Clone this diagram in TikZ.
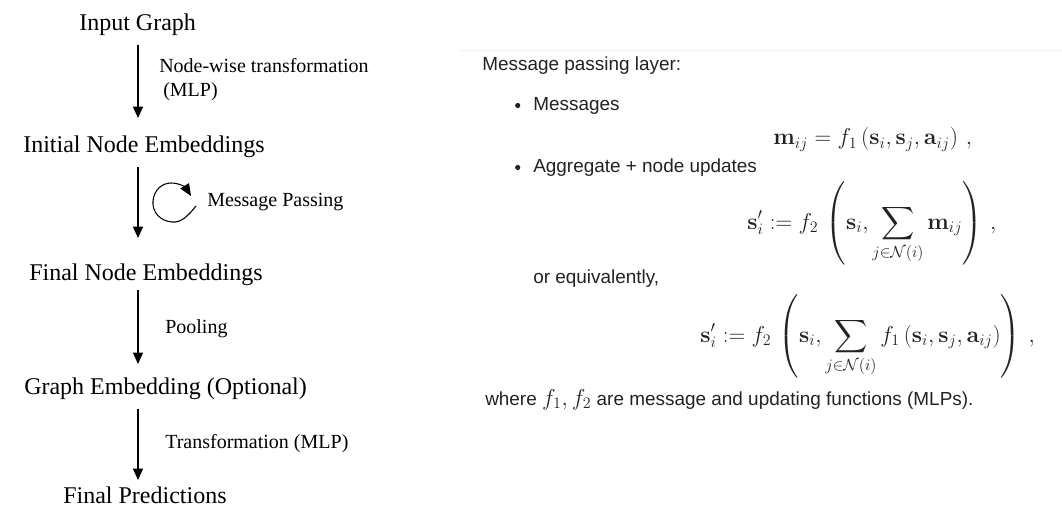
\documentclass[tikz,border=0pt]{standalone}
\usepackage{amsmath}
\usepackage[no-math]{fontspec}
\setmainfont{Liberation Serif}
\newfontfamily\rsans{Liberation Sans}
\usetikzlibrary{arrows.meta}
\definecolor{rtext}{HTML}{222222}
\definecolor{sepline}{HTML}{F0F0F0}
\tikzset{
  stage/.style={anchor=base west, inner sep=0pt, font=\fontsize{18}{21}\selectfont},
  lbl/.style={anchor=base west, inner sep=0pt, align=left, font=\fontsize{15}{18}\selectfont},
  rtxt/.style={anchor=base west, inner sep=0pt, text=rtext, font=\rsans\fontsize{14.2}{17}\selectfont},
  eqn/.style={anchor=base west, inner sep=0pt, text=rtext, font=\fontsize{17.5}{20}\selectfont},
  bul/.style={circle, fill=rtext, inner sep=0pt, minimum size=3.9pt},
  arr/.style={line width=1.1pt, -{Triangle[length=8.5pt,width=7.5pt]}},
  looparr/.style={line width=0.8pt, -{Triangle[length=9pt,width=7.5pt]}},
}
\begin{document}
\begin{tikzpicture}[x=0.75pt,y=-0.75pt]
\useasboundingbox (0,0) rectangle (1062,513);
% ---------- left flow ----------
\coordinate (ax) at (138,0);
\node[stage] (igraph) at (79,31) {Input Graph};
\node[stage] (init)   at (23,153) {Initial Node Embeddings};
\node[stage] (final)  at (29,280) {Final Node Embeddings};
\node[stage] (gemb)   at (24,394) {Graph Embedding (Optional)};
\node[stage] (pred)   at (63,503) {Final Predictions};

\node[lbl] (l1) at (159,97) {Node-wise transformation\\\hspace{3pt}(MLP)};
\node[lbl] (l2) at (207,207) {Message Passing};
\node[lbl] (l3) at (165,333) {Pooling};
\node[lbl] (l4) at (165,448) {Transformation (MLP)};

\draw[arr, shorten <=10.5pt, shorten >=26.25pt] (igraph.base -| ax) -- (init.base -| ax);
\draw[arr, shorten <=10.5pt, shorten >=31.5pt] (init.base -| ax) -- (final.base -| ax);
\draw[arr, shorten <=7.5pt, shorten >=22.5pt] (final.base -| ax) -- (gemb.base -| ax);
\draw[arr, shorten <=11.25pt, shorten >=17.25pt] (gemb.base -| ax) -- (pred.base -| ax);

% self loop symbol
\draw[looparr] (196,206) .. controls (188,216) and (181,223) .. (172,222)
  .. controls (160,221) and (152,212) .. (153,201)
  .. controls (154,190) and (162,183) .. (171,183)
  .. controls (180,183) and (186,188) .. (191,196);

% ---------- right panel ----------
\draw[sepline, line width=0.75pt] (460,51) -- (1062,51);
\node[rtxt] (title) at (482,71) {Message passing layer:};
\node[bul] (b1) at (517.7,105.5) {};
\node[rtxt] (msg) at (533,111) {Messages};
\node[eqn] (eq1) at (773,145) {$\mathbf{m}_{ij} = f_1\left(\mathbf{s}_i, \mathbf{s}_j, \mathbf{a}_{ij}\right)\,,$};
\node[bul] (b2) at (517.7,167.5) {};
\node[rtxt] (agg) at (533,172.7) {Aggregate + node updates};
\node[eqn] (eq2) at (747,229) {$\displaystyle \mathbf{s}'_i := f_2\,\left(\mathbf{s}_i, \sum_{j\in\mathcal{N}(i)} \mathbf{m}_{ij}\right)\,,$};
\node[rtxt] (oreq) at (533,283) {or equivalently,};
\node[eqn] (eq3) at (700,342) {$\displaystyle \mathbf{s}'_i := f_2\,\left(\mathbf{s}_i, \sum_{j\in\mathcal{N}(i)} f_1\left(\mathbf{s}_i, \mathbf{s}_j, \mathbf{a}_{ij}\right)\right)\,,$};
\node[rtxt] (where) at (485,405) {where {\fontsize{17.5}{20}\selectfont$f_1, f_2$} are message and updating functions (MLPs).};
\end{tikzpicture}
\end{document}
